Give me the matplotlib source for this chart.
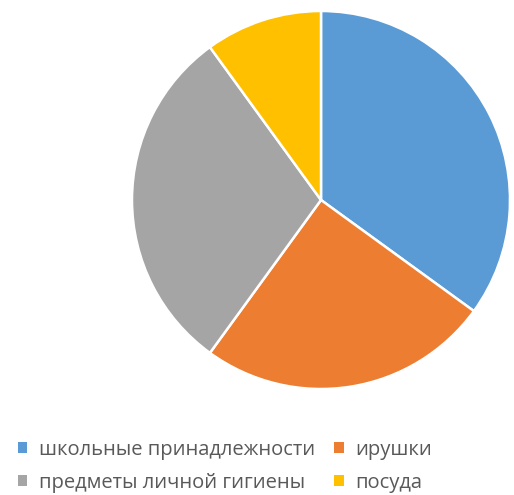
import matplotlib.pyplot as plt

# Данные
categories = ['школьные принадлежности', 'ирушки', 'предметы личной гигиены', 'посуда']
values = [35, 25, 30, 10]
colors = ['#5B9BD5', '#ED7D31', '#A5A5A5', '#FFC000']

W, H = 514, 495
fig = plt.figure(figsize=(W / 100, H / 100), dpi=100)

# центр (321, 200), радиус ~189 px
cx, cy, r = 321, 200, 189
ax = fig.add_axes([(cx - r) / W, (H - cy - r) / H, 2 * r / W, 2 * r / H])
wedges, _ = ax.pie(values, colors=colors, startangle=90, counterclock=False,
                   radius=1, wedgeprops=dict(edgecolor='white', linewidth=1.8))
ax.set_xlim(-1, 1)
ax.set_ylim(-1, 1)
ax.set_aspect('equal')
ax.axis('off')

# порядок для легенды: построчно
order = [0, 2, 1, 3]
leg = fig.legend([wedges[i] for i in order], [categories[i] for i in order],
                 ncol=2, loc='upper left', bbox_to_anchor=(8 / W, 1 - 430 / H),
                 frameon=False, prop=dict(family='Open Sans', size=14.5),
                 handlelength=0.45, handleheight=0.45, handletextpad=0.6,
                 columnspacing=0.95, labelspacing=0.62, borderpad=0)
for t in leg.get_texts():
    t.set_color('#595959')
for h in leg.legend_handles:
    h.set_edgecolor('none')

fig.savefig('out.png', dpi=100)
